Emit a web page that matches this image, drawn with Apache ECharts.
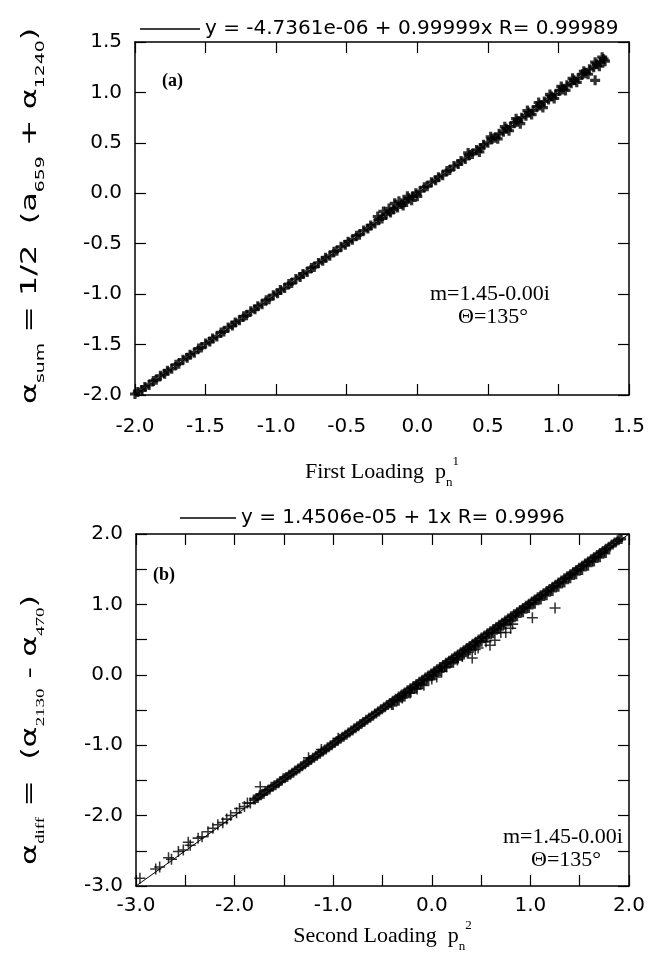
<!DOCTYPE html>
<html><head><meta charset="utf-8">
<script src="https://cdn.jsdelivr.net/npm/echarts/dist/echarts.min.js"></script>
<style>html,body{margin:0;padding:0;background:#fff}#c{width:663px;height:969px}</style>
</head><body><div id="c"></div>
<script>
// ---------- data ----------
var legendTop = 'y = -4.7361e-06 + 0.99999x R= 0.99989';
var legendBot = 'y = 1.4506e-05 + 1x R= 0.9996';
var fitTop = [-4.7361e-06, 0.99999];   // intercept, slope
var fitTopRange = [-2.0, 1.33];
var fitBot = [1.4506e-05, 1];
var fitBotRange = [-3.0, 2.0];

var xTicksTop = [-2.0, -1.5, -1.0, -0.5, 0.0, 0.5, 1.0, 1.5];
var yTicksTop = [-2.0, -1.5, -1.0, -0.5, 0.0, 0.5, 1.0, 1.5];
var xTicksBot = [-3.0, -2.0, -1.0, 0.0, 1.0, 2.0];
var yTicksBot = [-3.0, -2.0, -1.0, 0.0, 1.0, 2.0];

var topMain = [[-2.00,-1.99],[-1.98,-1.97],[-1.95,-1.95],[-1.93,-1.92],[-1.90,-1.90],[-1.87,-1.86],[-1.85,-1.85],[-1.82,-1.81],[-1.79,-1.79],[-1.77,-1.76],[-1.74,-1.74],[-1.71,-1.70],[-1.69,-1.69],[-1.66,-1.65],[-1.63,-1.63],[-1.61,-1.60],[-1.58,-1.58],[-1.55,-1.54],[-1.53,-1.53],[-1.50,-1.49],[-1.47,-1.47],[-1.45,-1.44],[-1.42,-1.42],[-1.39,-1.38],[-1.37,-1.37],[-1.34,-1.33],[-1.31,-1.31],[-1.29,-1.28],[-1.26,-1.26],[-1.23,-1.22],[-1.21,-1.21],[-1.18,-1.17],[-1.15,-1.15],[-1.13,-1.12],[-1.10,-1.10],[-1.07,-1.06],[-1.05,-1.05],[-1.02,-1.01],[-0.99,-0.99],[-0.97,-0.96],[-0.94,-0.94],[-0.91,-0.90],[-0.89,-0.89],[-0.86,-0.85],[-0.83,-0.83],[-0.81,-0.80],[-0.78,-0.78],[-0.75,-0.74],[-0.73,-0.73],[-0.70,-0.69],[-0.67,-0.67],[-0.65,-0.64],[-0.62,-0.62],[-0.59,-0.58],[-0.57,-0.57],[-0.54,-0.53],[-0.51,-0.51],[-0.49,-0.48],[-0.46,-0.46],[-0.43,-0.42],[-0.41,-0.41],[-0.38,-0.37],[-0.35,-0.35],[-0.33,-0.32],[-0.30,-0.30],[-0.27,-0.26],[-0.25,-0.25],[-0.22,-0.21],[-0.19,-0.19],[-0.17,-0.16],[-0.14,-0.14],[-0.11,-0.10],[-0.09,-0.09],[-0.06,-0.05],[-0.03,-0.03],[-0.01,0.00],[0.02,0.02],[0.05,0.06],[0.07,0.07],[0.10,0.11],[0.13,0.13],[0.15,0.16],[0.18,0.18],[0.21,0.22],[0.23,0.23],[0.26,0.27],[0.29,0.29],[0.31,0.32],[0.34,0.34],[0.37,0.38],[0.39,0.39],[0.42,0.43],[0.45,0.45],[0.47,0.48],[0.50,0.50],[0.53,0.54],[0.55,0.55],[0.58,0.59],[0.61,0.61],[0.63,0.64],[0.66,0.66],[0.69,0.70],[0.71,0.71],[0.74,0.75],[0.77,0.77],[0.79,0.80],[0.82,0.82],[0.85,0.86],[0.87,0.87],[0.90,0.91],[0.93,0.93],[0.95,0.96],[0.98,0.98],[1.01,1.02],[1.03,1.03],[1.06,1.07],[1.09,1.09],[1.11,1.12],[1.14,1.14],[1.17,1.18],[1.19,1.19],[1.22,1.23],[1.25,1.25],[1.27,1.28],[1.30,1.30],[1.32,1.33]];
var topSpread = [[-0.28,-0.23],[-0.24,-0.18],[-0.20,-0.15],[-0.16,-0.10],[-0.13,-0.08],[-0.10,-0.12],[-0.07,-0.03],[-0.04,-0.07],[0.00,-0.03],[0.36,0.40],[0.44,0.41],[0.52,0.56],[0.57,0.54],[0.62,0.66],[0.65,0.62],[0.70,0.74],[0.73,0.69],[0.78,0.82],[0.81,0.78],[0.86,0.90],[0.89,0.85],[0.94,0.98],[0.97,0.94],[1.02,1.06],[1.05,1.02],[1.10,1.14],[1.13,1.10],[1.18,1.21],[1.21,1.18],[1.26,1.30],[1.29,1.26],[1.31,1.35],[1.33,1.31],[1.26,1.12]];

var botMain = [[-1.80,-1.77],[-1.77,-1.75],[-1.74,-1.71],[-1.71,-1.69],[-1.68,-1.65],[-1.65,-1.63],[-1.62,-1.59],[-1.59,-1.57],[-1.56,-1.54],[-1.53,-1.51],[-1.50,-1.47],[-1.47,-1.45],[-1.44,-1.42],[-1.41,-1.39],[-1.38,-1.36],[-1.35,-1.33],[-1.32,-1.30],[-1.29,-1.27],[-1.26,-1.24],[-1.23,-1.21],[-1.20,-1.18],[-1.17,-1.15],[-1.14,-1.12],[-1.11,-1.09],[-1.08,-1.06],[-1.05,-1.03],[-1.02,-1.00],[-0.99,-0.97],[-0.96,-0.94],[-0.93,-0.91],[-0.90,-0.88],[-0.87,-0.85],[-0.84,-0.82],[-0.81,-0.79],[-0.78,-0.76],[-0.75,-0.73],[-0.72,-0.70],[-0.69,-0.67],[-0.66,-0.64],[-0.63,-0.61],[-0.60,-0.58],[-0.57,-0.55],[-0.54,-0.52],[-0.51,-0.49],[-0.48,-0.46],[-0.45,-0.43],[-0.42,-0.40],[-0.39,-0.37],[-0.36,-0.34],[-0.33,-0.31],[-0.30,-0.28],[-0.27,-0.25],[-0.24,-0.22],[-0.21,-0.19],[-0.18,-0.16],[-0.15,-0.13],[-0.12,-0.10],[-0.09,-0.07],[-0.06,-0.04],[-0.03,-0.01],[0.00,0.02],[0.03,0.05],[0.06,0.08],[0.09,0.11],[0.12,0.14],[0.15,0.17],[0.18,0.20],[0.21,0.23],[0.24,0.26],[0.27,0.29],[0.30,0.32],[0.33,0.35],[0.36,0.38],[0.39,0.41],[0.42,0.44],[0.45,0.47],[0.48,0.50],[0.51,0.53],[0.54,0.56],[0.57,0.59],[0.60,0.62],[0.63,0.65],[0.66,0.68],[0.69,0.71],[0.72,0.74],[0.75,0.77],[0.78,0.80],[0.81,0.83],[0.84,0.86],[0.87,0.89],[0.90,0.92],[0.93,0.95],[0.96,0.98],[0.99,1.01],[1.02,1.04],[1.05,1.07],[1.08,1.10],[1.11,1.13],[1.14,1.16],[1.17,1.19],[1.20,1.22],[1.23,1.25],[1.26,1.28],[1.29,1.31],[1.32,1.34],[1.35,1.37],[1.38,1.40],[1.41,1.43],[1.44,1.46],[1.47,1.49],[1.50,1.52],[1.53,1.55],[1.56,1.58],[1.59,1.61],[1.62,1.64],[1.65,1.67],[1.68,1.70],[1.71,1.73],[1.74,1.76],[1.77,1.79],[1.80,1.82],[1.83,1.85],[1.86,1.88],[1.89,1.91],[1.92,1.93]];
var botLower = [[-0.40,-0.43],[-0.34,-0.37],[-0.28,-0.31],[-0.22,-0.25],[-0.16,-0.19],[-0.10,-0.13],[-0.04,-0.07],[0.02,-0.01],[0.08,0.05],[0.14,0.11],[0.20,0.17],[0.26,0.23],[0.32,0.29],[0.38,0.35],[0.44,0.41],[0.50,0.47],[0.56,0.53],[0.62,0.59],[0.68,0.65],[0.74,0.71],[0.80,0.77],[0.86,0.83],[0.92,0.89],[0.98,0.95],[1.04,1.01],[1.10,1.07],[1.16,1.13],[1.22,1.19],[1.28,1.25],[1.34,1.31],[1.40,1.37],[1.46,1.43],[1.52,1.49],[1.58,1.55],[1.64,1.61],[1.70,1.67],[1.76,1.73]];
var botScatter = [[-2.96,-2.89],[-2.80,-2.76],[-2.76,-2.73],[-2.67,-2.60],[-2.64,-2.62],[-2.57,-2.51],[-2.52,-2.49],[-2.47,-2.38],[-2.45,-2.42],[-2.37,-2.32],[-2.33,-2.30],[-2.27,-2.23],[-2.22,-2.18],[-2.17,-2.13],[-2.12,-2.10],[-2.08,-2.05],[-2.04,-2.00],[-1.98,-1.96],[-1.95,-1.90],[-1.90,-1.87],[-1.87,-1.82],[-1.84,-1.82],[-1.74,-1.59],[-1.25,-1.18],[-1.12,-1.06],[-0.95,-0.90],[1.25,0.95],[1.02,0.81],[0.80,0.66],[0.75,0.60],[0.82,0.72],[0.64,0.49],[0.59,0.42],[0.47,0.38],[0.44,0.36],[0.41,0.24],[0.37,0.32],[0.31,0.26],[0.26,0.21],[0.22,0.18],[0.15,0.11],[0.10,0.05],[0.05,-0.03],[0.00,-0.06],[-0.08,-0.15],[-0.15,-0.20],[-0.22,-0.26],[-0.30,-0.33],[0.55,0.47],[0.70,0.60]];

// ---------- chart ----------
var SANS = "'DejaVu Sans', 'Liberation Sans', sans-serif";
var SERIF = "'Liberation Serif', 'DejaVu Serif', serif";
var PLUS_BAND = 'path://M3.4,0H6.6V3.4H10V6.6H6.6V10H3.4V6.6H0V3.4H3.4Z';
var PLUS_THIN = 'path://M4.3,0H5.7V4.3H10V5.7H5.7V10H4.3V5.7H0V4.3H4.3Z';
function fmt1(v) { return v.toFixed(1); }
function intOnly(v) { return Math.abs(v - Math.round(v)) < 1e-9 ? v.toFixed(1) : ''; }

function axis(gridIndex, position, ticks, step, labelFmt, showLabel, margin, extra) {
  return Object.assign({
    type: 'value', gridIndex: gridIndex, position: position,
    min: ticks[0], max: ticks[ticks.length - 1], interval: step,
    axisLine: { show: true, onZero: false, lineStyle: { color: '#000', width: 1.5 } },
    axisTick: { show: true, inside: true, length: 11, lineStyle: { color: '#000', width: 1.2 } },
    axisLabel: { show: showLabel, formatter: labelFmt, color: '#000', fontFamily: SANS, fontSize: 20, margin: margin || 8 },
    splitLine: { show: false }
  }, extra || {});
}

var subS = { fontSize: 13, verticalAlign: 'bottom', lineHeight: 14 };
var supS = { fontSize: 13, verticalAlign: 'top', lineHeight: 14 };
function mk(base, ff) { return Object.assign({ fontFamily: ff, color: '#000' }, base); }
var titleRich = {
  t: { fontFamily: SANS, fontSize: 22, color: '#000', lineHeight: 34 },
  s: mk(subS, SANS),
  r: mk(subS, SERIF)
};

var myChart = echarts.init(document.getElementById('c'));
window.chart = myChart;

var option = {
  backgroundColor: '#fff',
  animation: false,
  grid: [
    { left: 135, right: 34, top: 42, height: 353 },
    { left: 136, right: 34, top: 534, height: 352 }
  ],
  legend: [
    { data: [legendTop], left: 135, top: 14, icon: 'rect', itemWidth: 60, itemHeight: 1.3,
      textStyle: { fontFamily: SANS, fontSize: 20, color: '#000' } },
    { data: [legendBot], left: 175, top: 503, icon: 'rect', itemWidth: 56, itemHeight: 1.3,
      textStyle: { fontFamily: SANS, fontSize: 20, color: '#000' } }
  ],
  xAxis: [
    axis(0, 'bottom', xTicksTop, 0.5, fmt1, true, 22, {
      name: '{t|First Loading  p}{s|n}{p|1}', nameLocation: 'middle', nameGap: 60,
      nameTextStyle: { rich: { t: { fontFamily: SERIF, fontSize: 22, color: '#000', lineHeight: 34 },
        s: mk(subS, SERIF), p: mk(supS, SERIF) } }
    }),
    axis(0, 'top', xTicksTop, 0.5, fmt1, false),
    axis(1, 'bottom', xTicksBot, 0.5, intOnly, true, 10, {
      name: '{t|Second Loading  p}{s|n}{p|2}', nameLocation: 'middle', nameGap: 33,
      nameTextStyle: { rich: { t: { fontFamily: SERIF, fontSize: 22, color: '#000', lineHeight: 34 },
        s: mk(subS, SERIF), p: mk(supS, SERIF) } }
    }),
    axis(1, 'top', xTicksBot, 0.5, intOnly, false)
  ],
  yAxis: [
    axis(0, 'left', yTicksTop, 0.5, fmt1, true, 13),
    axis(0, 'right', yTicksTop, 0.5, fmt1, false),
    axis(1, 'left', yTicksBot, 0.5, intOnly, true, 13),
    axis(1, 'right', yTicksBot, 0.5, intOnly, false)
  ],
  series: [
    { name: legendTop, type: 'line', xAxisIndex: 0, yAxisIndex: 0, symbol: 'none',
      data: fitTopRange.map(function (x) { return [x, fitTop[0] + fitTop[1] * x]; }),
      lineStyle: { color: '#000', width: 1 }, itemStyle: { color: '#000' }, z: 1 },
    { type: 'scatter', xAxisIndex: 0, yAxisIndex: 0, symbol: PLUS_BAND, symbolSize: 10,
      data: topMain.concat(topSpread), itemStyle: { color: '#000' }, z: 2 },
    { name: legendBot, type: 'line', xAxisIndex: 2, yAxisIndex: 2, symbol: 'none',
      data: fitBotRange.map(function (x) { return [x, fitBot[0] + fitBot[1] * x]; }),
      lineStyle: { color: '#000', width: 1 }, itemStyle: { color: '#000' }, z: 1 },
    { type: 'scatter', xAxisIndex: 2, yAxisIndex: 2, symbol: PLUS_BAND, symbolSize: 10,
      data: botMain.concat(botLower), itemStyle: { color: '#000' }, z: 2 },
    { type: 'scatter', xAxisIndex: 2, yAxisIndex: 2, symbol: PLUS_THIN, symbolSize: 11,
      data: botScatter, itemStyle: { color: '#000' }, z: 2 }
  ],
  graphic: [
    { type: 'text', x: 30, y: 216, rotation: Math.PI / 2, scaleX: 1.45, scaleY: 1,
      style: { text: '{t|α}{s|sum}{t| = 1/2  (a}{s|659}{t| + α}{s|1240}{t|)}', rich: titleRich,
        align: 'center', verticalAlign: 'middle', fill: '#000' } },
    { type: 'text', x: 30, y: 730, rotation: Math.PI / 2, scaleX: 1.45, scaleY: 1,
      style: { text: '{t|α}{r|diff}{t| =  (α}{r|2130}{t| - α}{r|470}{t|)}', rich: titleRich,
        align: 'center', verticalAlign: 'middle', fill: '#000' } },
    { type: 'text', left: 162, top: 72, style: { text: '(a)', font: "bold 18px 'Liberation Serif', serif", fill: '#000' } },
    { type: 'text', left: 153, top: 566, style: { text: '(b)', font: "bold 18px 'Liberation Serif', serif", fill: '#000' } },
    { type: 'text', left: 430, top: 283, style: { text: 'm=1.45-0.00i', font: "22px 'Liberation Serif', serif", fill: '#000' } },
    { type: 'text', left: 458, top: 306, style: { text: 'Θ=135°', font: "22px 'Liberation Serif', serif", fill: '#000' } },
    { type: 'text', left: 503, top: 826, style: { text: 'm=1.45-0.00i', font: "22px 'Liberation Serif', serif", fill: '#000' } },
    { type: 'text', left: 531, top: 849, style: { text: 'Θ=135°', font: "22px 'Liberation Serif', serif", fill: '#000' } }
  ]
};
myChart.setOption(option);
</script>
</body></html>
